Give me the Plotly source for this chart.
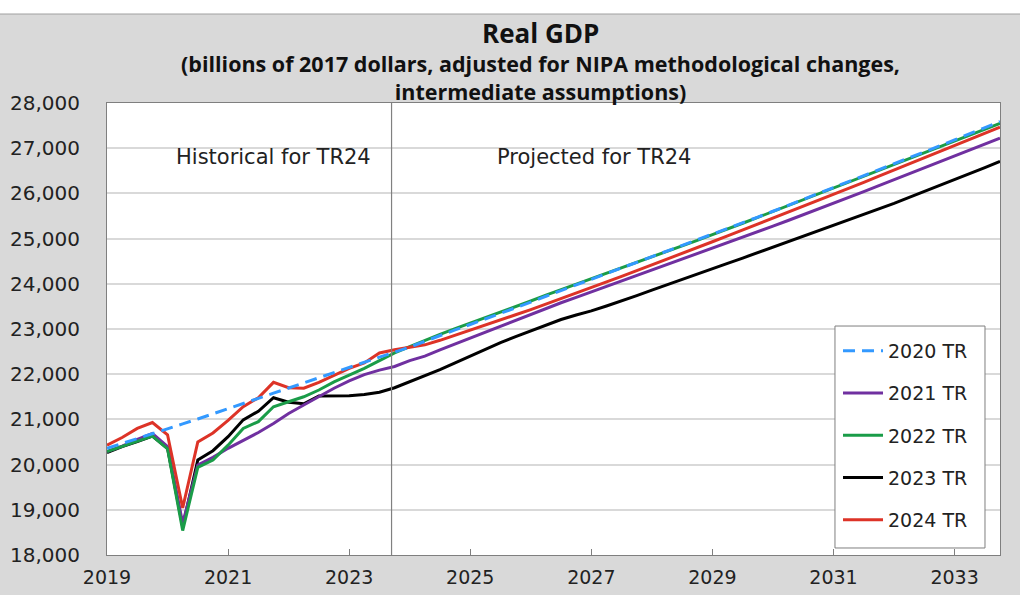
import plotly.graph_objects as go

# quarterly points, 2019Q1 .. 2033Q4
quarters = [2019 + i / 4 for i in range(60)]

tr2020 = [20360, 20465, 20570, 20680, 20790, 20900, 21010, 21120, 21235, 21350,
          21465, 21580, 21695, 21810, 21925, 22040, 22160, 22275, 22385, 22490,
          22600, 22730, 22860, 22980, 23100, 23220, 23340, 23470, 23595, 23725,
          23850, 23970, 24090, 24210, 24335, 24460, 24585, 24710, 24835, 24960,
          25090, 25215, 25345, 25475, 25605, 25735, 25865, 25995, 26125, 26255,
          26390, 26520, 26655, 26785, 26920, 27050, 27185, 27315, 27450, 27590]

tr2021 = [20290, 20410, 20560, 20690, 20400, 18700, 19990, 20160, 20360, 20540,
          20710, 20910, 21130, 21320, 21500, 21690, 21850, 21990, 22090, 22170,
          22300, 22400, 22540, 22670, 22800, 22940, 23070, 23200, 23330, 23460,
          23580, 23700, 23820, 23940, 24060, 24180, 24300, 24420, 24540, 24660,
          24780, 24900, 25025, 25150, 25275, 25400, 25525, 25650, 25780, 25910,
          26040, 26170, 26300, 26430, 26560, 26695, 26830, 26960, 27090, 27220]

tr2022 = [20290, 20400, 20520, 20630, 20350, 18540, 19940, 20100, 20430, 20800,
          20950, 21280, 21390, 21500, 21650, 21830, 21980, 22130, 22300, 22470,
          22610, 22750, 22880, 23010, 23130, 23250, 23370, 23500, 23620, 23750,
          23870, 23990, 24110, 24230, 24350, 24470, 24590, 24710, 24840, 24960,
          25090, 25210, 25340, 25470, 25600, 25730, 25860, 25990, 26120, 26250,
          26380, 26510, 26640, 26770, 26900, 27030, 27160, 27290, 27420, 27550]

tr2023 = [20263, 20396, 20507, 20633, 20360, 18626, 20102, 20308, 20617, 20990,
          21180, 21480, 21380, 21345, 21518, 21520, 21525, 21550, 21600, 21700,
          21830, 21960, 22100, 22250, 22400, 22550, 22700, 22830, 22960, 23090,
          23210, 23310, 23400, 23510, 23620, 23740, 23860, 23975, 24090, 24210,
          24330, 24450, 24570, 24690, 24810, 24930, 25050, 25170, 25290, 25410,
          25530, 25650, 25780, 25910, 26040, 26170, 26300, 26435, 26570, 26710]

tr2024 = [20430, 20600, 20800, 20930, 20660, 19040, 20500, 20700, 20980, 21280,
          21480, 21820, 21700, 21690, 21820, 21980, 22130, 22250, 22470, 22540,
          22590, 22650, 22750, 22860, 22970, 23085, 23200, 23315, 23430, 23550,
          23670, 23790, 23915, 24040, 24165, 24290, 24415, 24540, 24670, 24800,
          24930, 25060, 25190, 25320, 25450, 25580, 25710, 25840, 25975, 26110,
          26245, 26380, 26515, 26650, 26785, 26920, 27055, 27190, 27325, 27465]

series_names = ['2020 TR', '2021 TR', '2022 TR', '2023 TR', '2024 TR']
series_values = [tr2020, tr2021, tr2022, tr2023, tr2024]
series_colors = ['#3399FF', '#7030A0', '#1A9C48', '#000000', '#DD3327']

year_ticks = [2019, 2021, 2023, 2025, 2027, 2029, 2031, 2033]
y_ticks = list(range(18000, 28001, 1000))
hist_end = 2023.7  # last historical quarter for TR24

fig = go.Figure()

# draw order: black under, blue dashed on top
for k in [3, 1, 2, 4, 0]:
    fig.add_trace(go.Scatter(
        x=quarters, y=series_values[k], mode='lines',
        name=series_names[k], legendgroup=series_names[k],
        line=dict(color=series_colors[k], width=3,
                  dash='12px,7px' if k == 0 else 'solid'),
        legendrank=k,
    ))

title_font = dict(family='Open Sans', color='#111111')
fig.add_annotation(text='<b>Real GDP</b>', x=0.485, y=1.155, xref='paper', yref='paper',
                   xanchor='center', yanchor='middle', showarrow=False,
                   font=dict(size=26, **title_font))
fig.add_annotation(text='<b>(billions of 2017 dollars, adjusted for NIPA methodological changes,'
                        '<br>intermediate assumptions)</b>',
                   x=0.485, y=1.057, xref='paper', yref='paper',
                   xanchor='center', yanchor='middle', showarrow=False,
                   font=dict(size=21.5, **title_font))

for txt, xpos in [('Historical for TR24', 0.187), ('Projected for TR24', 0.545)]:
    fig.add_annotation(text=txt, x=xpos, y=0.881, xref='paper', yref='paper',
                       xanchor='center', yanchor='middle', showarrow=False,
                       font=dict(family='DejaVu Sans', size=21, color='#222222'))

# divider between history and projection
fig.add_shape(type='line', x0=hist_end, x1=hist_end, y0=0, y1=1, xref='x', yref='paper',
              line=dict(color='#808080', width=1.2))

# legend frame
fig.add_shape(type='rect', xref='paper', yref='paper', x0=0.8152, x1=0.9832,
              y0=0.0155, y1=0.5066, fillcolor='white', line=dict(color='#7f7f7f', width=1),
              layer='above')

# white strip above the grey chart area
fig.add_shape(type='rect', xref='paper', yref='paper', x0=-0.2, x1=1.1,
              y0=1 + 89 / 452, y1=1.3, fillcolor='white', line=dict(color='#a0a0a0', width=1),
              layer='below')

fig.update_layout(
    width=1020, height=595,
    margin=dict(l=107, r=20, t=103, b=40),
    paper_bgcolor='#D9D9D9', plot_bgcolor='white',
    font=dict(family='DejaVu Sans', size=18, color='#222222'),
    legend=dict(x=0.8186, y=0.4934, xanchor='left', yanchor='top',
                bgcolor='rgba(0,0,0,0)', borderwidth=0,
                font=dict(size=19), tracegroupgap=14.5, itemwidth=40),
)
fig.update_xaxes(range=[2019, 2033.75], tickvals=year_ticks,
                 ticktext=[str(y) for y in year_ticks],
                 showgrid=False, ticks='inside', ticklen=6, tickcolor='#7f7f7f',
                 showline=True, linecolor='#7f7f7f', mirror=True, automargin=False,
                 tickfont=dict(size=19), ticklabelstandoff=5, zeroline=False)
fig.update_yaxes(range=[18000, 28000], tickvals=y_ticks,
                 ticktext=[f'{v:,}' for v in y_ticks],
                 showgrid=True, gridcolor='#D9D9D9', gridwidth=1.5,
                 showline=True, linecolor='#7f7f7f', mirror=True, automargin=False,
                 tickfont=dict(size=20), ticklabelstandoff=22, zeroline=False)

fig.write_html("out.html", config={'displayModeBar': False},
               post_script="document.body.style.margin='0px';")
